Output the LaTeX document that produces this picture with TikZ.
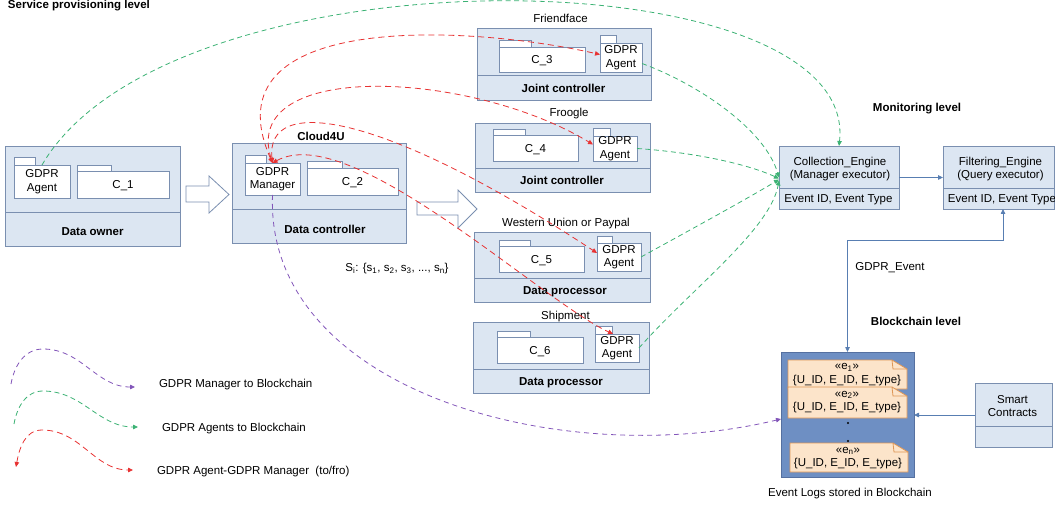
\documentclass[tikz,border=0pt]{standalone}
\usepackage{fontspec}
\setmainfont{Liberation Sans}
\usetikzlibrary{arrows.meta}
\definecolor{boxfill}{RGB}{220,230,242}
\definecolor{boxline}{RGB}{122,143,176}
\definecolor{cblue}{RGB}{88,126,178}
\definecolor{grn}{RGB}{60,178,116}
\definecolor{rd}{RGB}{232,50,50}
\definecolor{purp}{RGB}{130,85,185}
\definecolor{chainfill}{RGB}{110,143,195}
\definecolor{chainline}{RGB}{85,112,160}
\definecolor{notefill}{RGB}{252,228,202}
\definecolor{noteline}{RGB}{222,150,85}
\tikzset{
  every node/.style={font=\fontsize{11.5}{13.5}\selectfont, inner sep=0pt, outer sep=0pt},
  big/.style={draw=boxline, fill=boxfill, line width=0.9pt},
  pkg/.style={draw=boxline, fill=white, line width=0.8pt},
  one/.style={text height=8.3pt, text depth=0pt},
  bf/.style={font=\fontsize{11.5}{13.5}\selectfont\bfseries, one},
  hollow/.style={draw=boxline, fill=white, line width=0.8pt},
  mytip/.tip={Triangle[length=5pt,width=4.5pt]},
  cl/.style={draw=cblue, line width=0.8pt},
  gl/.style={draw=grn, line width=0.8pt, dash pattern=on 5pt off 3.5pt, -{mytip}},
  rl/.style={draw=rd, line width=0.8pt, dash pattern=on 6pt off 4pt, {mytip}-{mytip}},
  pl/.style={draw=purp, line width=0.8pt, dash pattern=on 5pt off 4pt, -{mytip}},
  notebody/.style={draw=noteline, fill=notefill, line width=0.8pt},
  notefold/.style={draw=noteline, line width=0.8pt},
}
% #1 options, #2 name, #3 tab x2, #4 tab y1, #5 x1, #6 y1, #7 x2, #8 y2, #9 text
\newcommand\pk[9][]{%
  \draw[pkg] (#5,#4) rectangle (#3,#6);
  \node[pkg, align=center, anchor=north west, minimum width={(#7-#5)*1pt}, minimum height={(#8-#6)*1pt}, #1] (#2) at (#5,#6) {#9};}
% #1 name, #2 x1, #3 y1, #4 x2, #5 y2, #6 divider y
\newcommand\bigbox[6]{%
  \node[big, anchor=north west, minimum width={(#4-#2)*1pt}, minimum height={(#5-#3)*1pt}] (#1) at (#2,#3) {};
  \draw[boxline, line width=0.9pt] (#2,#6) -- (#4,#6);}
% note: x1 y1 x2 y2
\newcommand\evnote[4]{%
  \draw[notebody] (#1,#2) -- ({#3-15},#2) -- (#3,{#2+9}) -- (#3,#4) -- (#1,#4) -- cycle;
  \draw[notefold] ({#3-15},#2) -- ({#3-14},{#2+9}) -- (#3,{#2+9});}
\begin{document}
\begin{tikzpicture}[x=1pt,y=-1pt]
\useasboundingbox (0,0) rectangle (1055,505);

\node[bf, anchor=base west] (lvl1) at (8,8.5) {Service provisioning level};

% Data owner
\bigbox{own}{5}{146}{180}{246}{212}
\node[bf] (ownl) at (92.5,231.5) {Data owner};
\pk{ag1}{35}{157}{14}{165}{70}{198}{GDPR\\Agent}
\pk[one]{c1}{111}{165}{77}{171}{169}{198}{C\_1}
\draw[hollow] (186,186) -- (209,186) -- (209,176) -- (229,194.5) -- (209,213) -- (209,202) -- (186,202) -- cycle;

% Data controller
\bigbox{ctl}{232}{143}{406}{243}{209}
\node[bf] (cloud) at (321,136.5) {Cloud4U};
\node[bf] (ctll) at (325,229) {Data controller};
\pk{mgr}{266}{155}{245}{163}{300}{195}{GDPR\\Manager}
\pk[one]{c2}{342}{161}{307}{168}{398}{195}{C\_2}
\draw[hollow] (417,202) -- (458,202) -- (458,190) -- (477,209) -- (458,228) -- (458,215) -- (417,215) -- cycle;
\node[one] (si) at (397,267.5) {S\textsubscript{i}: \{s\textsubscript{1}, s\textsubscript{2}, s\textsubscript{3}, ..., s\textsubscript{n}\}};

% Friendface
\node[one] (ffl) at (560.5,18.5) {Friendface};
\bigbox{ff}{477}{28}{651}{100}{75}
\node[bf] (ffj) at (563.5,88.5) {Joint controller};
\pk[one]{c3}{531}{40}{499}{47}{585}{72}{C\_3}
\pk{ag3}{616}{35}{600}{43}{642}{72}{GDPR\\Agent}

% Froogle
\node[one] (frl) at (569,112.5) {Froogle};
\bigbox{fr}{475}{123}{650}{192}{168}
\node[bf] (frj) at (562,180.5) {Joint controller};
\pk[one]{c4}{525}{129}{493}{135}{578}{161}{C\_4}
\pk{ag4}{610}{128}{593}{136}{637}{161}{GDPR\\Agent}

% Western Union
\node[one] (wul) at (566,222.5) {Western Union or Paypal};
\bigbox{wu}{474}{232}{650}{302}{278}
\node[bf] (wup) at (565,290.5) {Data processor};
\pk[one]{c5}{530}{240}{499}{246}{584}{272}{C\_5}
\pk{ag5}{612}{236}{597}{243}{641}{271}{GDPR\\Agent}

% Shipment
\node[one] (shl) at (565.5,315.5) {Shipment};
\bigbox{sh}{473}{322}{649}{393}{369}
\node[bf] (shp) at (561,381) {Data processor};
\pk[one]{c6}{530}{331}{497}{337}{583}{363}{C\_6}
\pk{ag6}{612}{326}{595}{334}{639}{362}{GDPR\\Agent}

% Monitoring level
\node[bf] (mon) at (917,107.5) {Monitoring level};
\bigbox{coll}{779}{146}{899}{209}{188}
\node[align=center] (collt) at (840,169) {Collection\_Engine\\(Manager executor)};
\node[one] (colle) at (838.5,198.5) {Event ID, Event Type};
\bigbox{filt}{943}{146}{1054}{209}{188}
\node[align=center] (filtt) at (1000.5,169) {Filtering\_Engine\\(Query executor)};
\node[one] (filte) at (1002,198.5) {Event ID, Event Type};

% Blockchain level
\node[bf] (bcl) at (916,321.5) {Blockchain level};
\node[draw=chainline, fill=chainfill, line width=0.9pt, anchor=north west, minimum width=133pt, minimum height=125pt] (chain) at (781,352) {};
\evnote{788}{360}{907}{389}
\node[align=center] (e1) at (847,374.5) {«e\textsubscript{1}»\\\{U\_ID, E\_ID, E\_type\}};
\evnote{788}{387}{907}{418}
\node[align=center] (e2) at (847,402) {«e\textsubscript{2}»\\\{U\_ID, E\_ID, E\_type\}};
\fill (848,423) circle (1.2);
\fill (848,441) circle (1.2);
\evnote{790}{443}{908}{472}
\node[align=center] (en) at (848,458) {«e\textsubscript{n}»\\\{U\_ID, E\_ID, E\_type\}};
\node[one] (evl) at (850,492.5) {Event Logs stored in Blockchain};

\bigbox{smart}{975}{383}{1052}{447}{426}
\node[align=center] (smt) at (1012.5,406) {Smart\\Contracts};

% blue connectors
\draw[cl, -{mytip}] (coll.east) -- (filt.west);
\draw[cl, {mytip}-{mytip}] ([xshift=4.5pt]filt.south) -- ++(0,31) -| (chain.north);
\node[one] (gev) at (890,266.5) {GDPR\_Event};
\draw[cl, -{mytip}] (smart.west) -- (chain.east |- smart.west);

% green: agents to collection engine
\draw[gl] (ag1.north) .. controls (170,-55) and (860,-45) .. (coll.north);
\draw[gl] ([yshift=-6pt]ag3.east) .. controls (700,85) and (765,130) .. (coll.west);
\draw[gl] (ag4.east) .. controls (690,152) and (745,163) .. ([yshift=-1pt]coll.west);
\draw[gl] (ag5.east) .. controls (690,230) and (745,200) .. ([yshift=-2pt]coll.west);
\draw[gl] (ag6.east) .. controls (690,290) and (770,230) .. ([yshift=-3pt]coll.west);

% red: manager <-> agents
\draw[rl] (mgr.north) .. controls (205,10) and (470,25) .. ([yshift=3pt]ag3.west);
\draw[rl] (mgr.north) .. controls (240,60) and (470,70) .. ([yshift=4pt]ag4.west);
\draw[rl] (mgr.north) .. controls (265,95) and (380,110) .. ([yshift=4pt]ag5.west);
\draw[rl] (mgr.north) .. controls (350,120) and (540,300) .. ([xshift=-4pt]ag6.north);

% purple: manager to blockchain
\draw[pl] (mgr.south) .. controls (265,390) and (560,472) .. ([yshift=-4.5pt]chain.west);

% legend
\coordinate (lpa) at (11,384);
\coordinate (lpb) at (43,349);
\coordinate (lpc) at (135,387);
\draw[pl] (lpa) to[out=80,in=180] (lpb) to[out=0,in=180] (lpc);
\node[one, anchor=west] (lt1) at (159,383.5) {GDPR Manager to Blockchain};
\coordinate (lga) at (14,424);
\coordinate (lgb) at (43,391);
\coordinate (lgc) at (138,427);
\draw[gl] (lga) to[out=80,in=180] (lgb) to[out=0,in=180] (lgc);
\node[one, anchor=west] (lt2) at (162,427.5) {GDPR Agents to Blockchain};
\coordinate (lra) at (16,467);
\coordinate (lrb) at (42,430);
\coordinate (lrc) at (133,470);
\draw[rl] (lra) to[out=80,in=180] (lrb) to[out=0,in=180] (lrc);
\node[one, anchor=west] (lt3) at (157,470.5) {GDPR Agent-GDPR Manager\ \ (to/fro)};
\end{tikzpicture}
\end{document}
